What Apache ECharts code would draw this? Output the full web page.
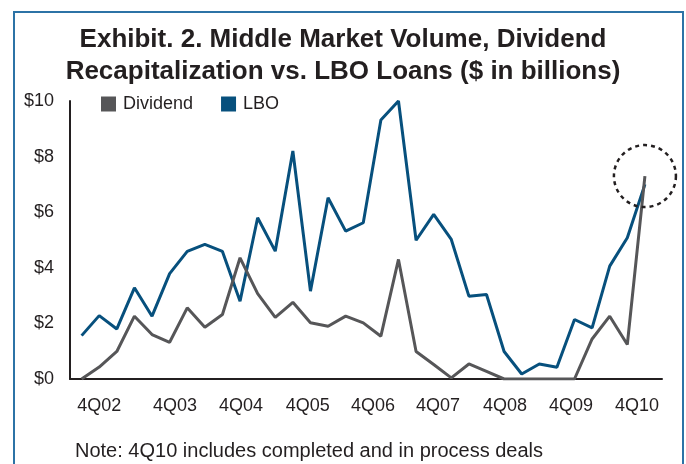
<!DOCTYPE html>
<html>
<head>
<meta charset="utf-8">
<script src="https://cdn.jsdelivr.net/npm/echarts@6/dist/echarts.min.js"></script>
<style>
html,body{margin:0;padding:0;background:#fff;}
#chart{width:686px;height:464px;}
</style>
</head>
<body>
<div id="chart"></div>
<script>
const quarters = ['4Q02','1Q03','2Q03','3Q03','4Q03','1Q04','2Q04','3Q04','4Q04','1Q05','2Q05','3Q05','4Q05',
  '1Q06','2Q06','3Q06','4Q06','1Q07','2Q07','3Q07','4Q07','1Q08','2Q08','3Q08','4Q08',
  '1Q09','2Q09','3Q09','4Q09','1Q10','2Q10','3Q10','4Q10'];
const dividend = [0,0.43,0.99,2.26,1.60,1.32,2.56,1.86,2.32,4.36,3.07,2.22,2.76,2.02,1.90,2.26,2.02,1.54,4.30,
  0.99,0.52,0.04,0.54,0.27,0,0,0,0,0,1.44,2.26,1.24,7.30];
const lbo = [1.56,2.28,1.80,3.28,2.26,3.79,4.59,4.84,4.59,2.80,5.80,4.60,8.20,3.16,6.52,5.32,5.62,9.32,10.0,
  4.99,5.92,5.02,2.98,3.04,0.99,0.18,0.54,0.42,2.14,1.84,4.06,5.08,7.00];
const tickLabels = ['4Q02','4Q03','4Q04','4Q05','4Q06','4Q07','4Q08','4Q09','4Q10'];
// where each tick label sits along the quarter axis (layout, in quarter-index units)
const tickLabelAt = [1.0,5.3,9.05,12.85,16.55,20.25,24.05,27.8,31.55];
const yTicks = [0,2,4,6,8,10];

const FONT = '"Liberation Sans", Arial, Helvetica, sans-serif';
const chart = echarts.init(document.getElementById('chart'), null, {renderer:'canvas'});
chart.setOption({
  animation:false,
  backgroundColor:'#fff',
  title:{
    text:'Exhibit. 2. Middle Market Volume, Dividend\nRecapitalization vs. LBO Loans ($ in billions)',
    left:'center', top:19,
    textStyle:{fontFamily:FONT,fontWeight:'bold',fontSize:26,lineHeight:32,color:'#231f20'}
  },
  legend:{
    data:['Dividend','LBO'], left:101, top:95, padding:0, icon:'rect', itemWidth:15, itemHeight:15, itemGap:28,
    textStyle:{fontFamily:FONT,fontSize:18,color:'#231f20',padding:[0,0,0,2]}
  },
  graphic:[
    {type:'rect', shape:{x:14,y:12,width:669,height:470}, style:{fill:'none',stroke:'#2c73a6',lineWidth:2}, silent:true},
    {type:'text', left:75, top:441, style:{text:'Note: 4Q10 includes completed and in process deals', font:'20px '+FONT, fill:'#231f20'}}
  ],
  grid:{left:70,right:24,top:101,bottom:85},
  xAxis:{
    type:'value', min:-0.66, max:32.97,
    axisLine:{show:true,onZero:false,lineStyle:{color:'#231f20',width:2}},
    axisTick:{show:false}, splitLine:{show:false},
    axisLabel:{
      show:true, customValues:tickLabelAt, margin:18,
      fontFamily:FONT, fontSize:18, color:'#231f20',
      formatter:function(v){
        let best=0; for(let i=0;i<tickLabelAt.length;i++){ if(Math.abs(tickLabelAt[i]-v)<Math.abs(tickLabelAt[best]-v)) best=i; }
        return tickLabels[best];
      }
    }
  },
  yAxis:{
    type:'value', min:0, max:10, interval:2,
    axisLine:{show:true,onZero:false,lineStyle:{color:'#231f20',width:2}},
    axisTick:{show:false}, splitLine:{show:false},
    axisLabel:{margin:16,fontFamily:FONT,fontSize:18,color:'#231f20',formatter:function(v){return '$'+v;}}
  },
  series:[
    {name:'LBO', type:'line', data:lbo.map((v,i)=>[i,v]), symbol:'none', lineStyle:{color:'#07507d',width:3}, itemStyle:{color:'#07507d'}, z:2},
    {name:'Dividend', type:'line', data:dividend.map((v,i)=>[i,v]), symbol:'none', lineStyle:{color:'#565658',width:3}, itemStyle:{color:'#565658'}, z:3,
      markPoint:{
        symbol:'circle', symbolSize:62, silent:true,
        label:{show:false},
        itemStyle:{color:'rgba(0,0,0,0)',borderColor:'#231f20',borderWidth:2.5,borderType:[4,4]},
        data:[{type:'max'}]
      }
    }
  ]
});
</script>
</body>
</html>
